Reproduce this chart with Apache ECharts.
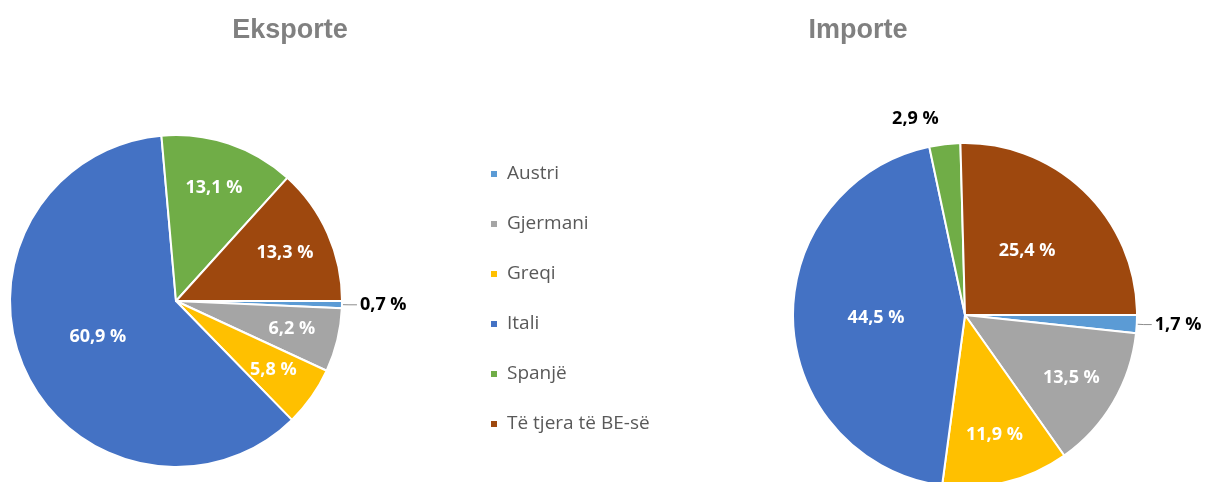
<!DOCTYPE html>
<html>
<head>
<meta charset="utf-8">
<script src="https://cdn.jsdelivr.net/npm/echarts@6/dist/echarts.min.js"></script>
<style>
html,body{margin:0;padding:0;background:#fff;}
#c{width:1207px;height:482px;}
</style>
</head>
<body>
<div id="c"></div>
<script>
// ---- data ----
const categories = ['Austri', 'Gjermani', 'Greqi', 'Itali', 'Spanjë', 'Të tjera të BE-së'];
const eksporte = [0.7, 6.2, 5.8, 60.9, 13.1, 13.3];
const importe = [1.7, 13.5, 11.9, 44.5, 2.9, 25.4];
const titles = ['Eksporte', 'Importe'];
const colors = ['#5B9BD5', '#A5A5A5', '#FFC000', '#4472C4', '#70AD47', '#9E480E'];

// ---- layout ----
const pies = [
  { center: [176, 301], r: 166, titleX: 290, values: eksporte },
  { center: [965, 315], r: 172, titleX: 858, values: importe }
];

const fmt = v => v.toFixed(1).replace('.', ',') + ' %';
const labelFont = 'Open Sans';
const labelSize = 18;

function mainData(values) {
  return values.map((v, i) => {
    const item = { name: categories[i], value: v, itemStyle: { color: colors[i] } };
    if (v < 4) {
      const top = (i === 4);
      item.label = {
        show: true, position: 'outside', color: '#000', fontWeight: 'bold',
        fontSize: labelSize, fontFamily: labelFont, distanceToLabelLine: 3
      };
      item.labelLine = top
        ? { show: false, length: 26, length2: 0 }
        : { show: true, length: 7, length2: 8, lineStyle: { color: '#8c8c8c', width: 1 } };
    } else if (v > 20) {
      item.label = { show: true, position: 'inside' };
    } else {
      item.label = { show: false };
    }
    return item;
  });
}
function ringData(values) {
  return values.map((v, i) => ({
    name: categories[i], value: v,
    label: { show: v >= 4 && v <= 20 }
  }));
}

const series = [];
pies.forEach(p => {
  series.push({
    type: 'pie', center: p.center, radius: [0, p.r], startAngle: 0, clockwise: true,
    avoidLabelOverlap: false, silent: true,
    itemStyle: { borderColor: '#fff', borderWidth: 2 },
    label: { color: '#fff', fontWeight: 'bold', fontSize: labelSize, fontFamily: labelFont, formatter: d => fmt(d.value) },
    labelLine: { show: false },
    emphasis: { disabled: true },
    data: mainData(p.values)
  });
});
pies.forEach(p => {
  series.push({
    type: 'pie', center: p.center, radius: [p.r * 0.4, p.r], startAngle: 0, clockwise: true,
    avoidLabelOverlap: false, silent: true, z: 5,
    itemStyle: { color: 'rgba(0,0,0,0)', borderWidth: 0 },
    label: { position: 'inside', color: '#fff', fontWeight: 'bold', fontSize: labelSize, fontFamily: labelFont, formatter: d => fmt(d.value) },
    labelLine: { show: false },
    emphasis: { disabled: true },
    data: ringData(p.values)
  });
});

const chart = echarts.init(document.getElementById('c'), null, { renderer: 'canvas' });
chart.setOption({
  animation: false,
  backgroundColor: '#fff',
  title: pies.map((p, k) => ({
    text: titles[k], left: p.titleX - 5, top: 12, textAlign: 'center',
    textStyle: { fontFamily: 'Liberation Sans', fontWeight: 'bold', fontSize: 27, color: '#808080' }
  })),
  legend: {
    orient: 'vertical', left: 489, top: 164, padding: 0,
    itemWidth: 8, itemHeight: 8, itemGap: 30, icon: 'rect',
    data: categories.map((c, i) => ({ name: c, itemStyle: { color: colors[i] } })),
    textStyle: { fontFamily: labelFont, fontSize: 19, color: '#595959', lineHeight: 20, padding: [0, 0, 0, 4] }
  },
  series: series
});
</script>
</body>
</html>
